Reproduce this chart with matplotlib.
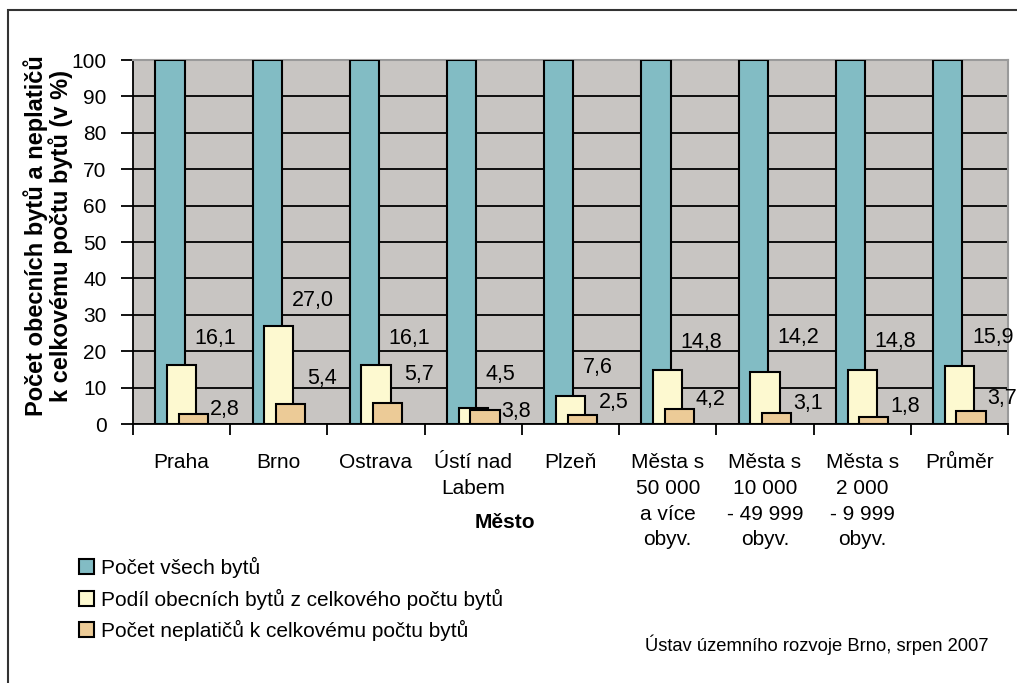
import numpy as np
import matplotlib
matplotlib.use("Agg")
import matplotlib.pyplot as plt
from matplotlib.patches import Rectangle

plt.rcParams['font.family'] = ['Liberation Sans', 'DejaVu Sans']

# data
mesta = ["Praha", "Brno", "Ostrava", "Ústí nad\nLabem", "Plzeň",
         "Města s\n50 000\na více\nobyv.", "Města s\n10 000\n- 49 999\nobyv.",
         "Města s\n2 000\n- 9 999\nobyv.", "Průměr"]
vsechny = [100, 100, 100, 100, 100, 100, 100, 100, 100]
obecni = [16.1, 27.0, 16.1, 4.5, 7.6, 14.8, 14.2, 14.8, 15.9]
neplatici = [2.8, 5.4, 5.7, 3.8, 2.5, 4.2, 3.1, 1.8, 3.7]

serie = ["Počet všech bytů",
         "Podíl obecních bytů z celkového počtu bytů",
         "Počet neplatičů k celkovému počtu bytů"]
barvy = ["#82bcc4", "#fdf9d0", "#eccb97"]

# svisle posunuti popisku nad sloupci (v % osy y)
posun_obecni = [7.3, 7.0, 7.5, 9.0, 7.8, 7.7, 9.5, 8.0, 8.0]
posun_neplatici = [1.3, 7.2, 8.0, -0.5, 3.3, 2.4, 2.4, 3.1, 3.2]

W, H = 1017, 683
fig = plt.figure(figsize=(W / 100, H / 100), dpi=100)
ax = fig.add_axes([133 / W, 1 - 424 / H, (1008 - 133) / W, (424 - 60) / H])
ax.set_facecolor("#c8c5c2")

x = np.arange(len(mesta))
sirka = 0.3
posun = [-0.12, 0.0, 0.12]
sloupce = []
for hodnoty, p, b, nazev in zip([vsechny, obecni, neplatici], posun, barvy, serie):
    s = ax.bar(x + p, hodnoty, sirka, color=b, edgecolor="black", linewidth=1.5,
               label=nazev, zorder=3)
    sloupce.append(s)

# popisky hodnot
def cislo(v):
    return f"{v:.1f}".replace(".", ",")

for xi, v, d in zip(x, obecni, posun_obecni):
    ax.text(xi + posun[1] + sirka / 2 - 0.02, v + d, cislo(v), ha="left", va="center",
            fontsize=15.5, zorder=4)
for xi, v, d in zip(x, neplatici, posun_neplatici):
    ax.text(xi + posun[2] + sirka / 2 + 0.02, v + d, cislo(v), ha="left", va="center",
            fontsize=15.5, zorder=4)

ax.set_xlim(-0.5, len(mesta) - 0.5)
ax.set_ylim(0, 100)
ax.set_yticks(np.arange(0, 101, 10))
ax.yaxis.grid(True, color="black", linewidth=1.3, zorder=1)
ax.set_axisbelow(True)
ax.tick_params(axis="y", labelsize=15, length=9, width=1.3, direction="out", pad=10)

ax.set_xticks(np.arange(-0.5, len(mesta), 1.0))
ax.set_xticklabels([])
ax.tick_params(axis="x", which="major", length=8, width=1.3, direction="out")
ax.set_xticks(x, minor=True)
ax.set_xticklabels(mesta, minor=True, fontsize=15, linespacing=1.45,
                   multialignment="center", va="top")
ax.tick_params(axis="x", which="minor", length=0, pad=21)

for sp in ["top", "right"]:
    ax.spines[sp].set_color("#9a9a9a")
    ax.spines[sp].set_linewidth(1.5)
for sp in ["left", "bottom"]:
    ax.spines[sp].set_linewidth(1.3)

fig.text(48 / W, 1 - 236 / H,
         "Počet obecních bytů a neplatičů\nk celkovému počtu bytů (v %)",
         rotation=90, ha="center", va="center", multialignment="center",
         fontsize=17, fontweight="bold", linespacing=1.0)
fig.text(505 / W, 1 - 522 / H, "Město", ha="center", va="center",
         fontsize=15, fontweight="bold")

fig.legend(handles=sloupce, labels=serie, loc="upper left",
           bbox_to_anchor=(79 / W, 1 - 557 / H), frameon=False, fontsize=15,
           handlelength=0.7, handleheight=0.7, handletextpad=0.35,
           labelspacing=0.5, borderpad=0, borderaxespad=0)

fig.text(645 / W, 1 - 645 / H, "Ústav územního rozvoje Brno, srpen 2007",
         ha="left", va="center", fontsize=13.2)

# ramecek kolem grafu
fig.add_artist(Rectangle((8 / W, -0.1), 1.2, 1 - 10 / H + 0.1,
                         transform=fig.transFigure, fill=False,
                         edgecolor="#333333", linewidth=1.5))

fig.savefig("out.png", dpi=100)
